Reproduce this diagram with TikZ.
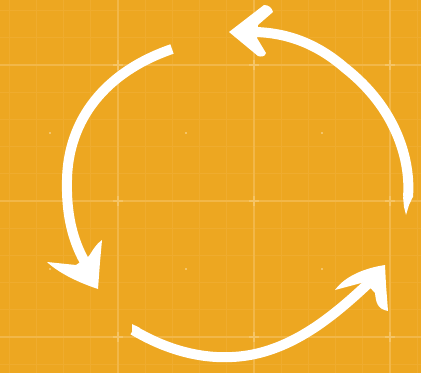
\documentclass[tikz,border=0pt]{standalone}
\begin{document}
\begin{tikzpicture}[x=1pt,y=-1pt,
  shaft/.style={white,line width=10pt,line cap=butt},
  headfill/.style={fill=white},
  minorgrid/.style={draw=gridminor,line width=0.9pt},
  majorgrid/.style={draw=gridmajor,line width=1.1pt}]
\definecolor{bgorange}{RGB}{237,167,33}
\definecolor{gridminor}{RGB}{239,172,46}
\definecolor{gridmajor}{RGB}{242,183,72}
\definecolor{gridmark}{RGB}{245,196,102}
\useasboundingbox (0,0) rectangle (421,373);
\fill[bgorange] (0,0) rectangle (421,373);
% minor grid
\foreach \i in {0,...,15} {\path[minorgrid] ({9.2+27.2*\i},0) -- ({9.2+27.2*\i},373);}
\foreach \j in {0,...,13} {\path[minorgrid] (0,{10.6+27.2*\j}) -- (421,{10.6+27.2*\j});}
% major grid
\foreach \x in {118,254,390} {\path[majorgrid] (\x,0) -- (\x,373);}
\foreach \y in {65,201,337} {\path[majorgrid] (0,\y) -- (421,\y);}
% crosses at major intersections
\foreach \x in {118,254,390} {\foreach \y in {65,201,337} {
  \draw[gridmark,line width=1.3pt] (\x-5,\y) -- (\x+5,\y) (\x,\y-5) -- (\x,\y+5);}}
% dots at cell centres
\foreach \x in {50,186,322} {\foreach \y in {133,269} {\fill[gridmark] (\x-1,\y-1) rectangle (\x+1,\y+1);}}
% arrow 1 (left, pointing down)
\draw[shaft] (172,49) .. controls (105,72) and (68,120) .. (67,180)
  .. controls (66,220) and (75,245) .. (86,264);
\path[headfill] (98,289) .. controls (80,283) and (60,274) .. (47,262)
  -- (76,265) -- (89,256) .. controls (93,250) and (96,244) .. (102,240)
  -- (100,262) -- cycle;
% arrow 2 (bottom, pointing up-right)
\draw[shaft] (133,330) .. controls (170,352) and (210,362) .. (250,355)
  .. controls (300,346) and (340,310) .. (371,281);
\fill[white] (132,324) -- (140,328) -- (136,336) -- (132,331) -- cycle;
\path[headfill] (385,265) .. controls (365,268) and (345,276) .. (335,290)
  -- (365,282) -- (375,293) .. controls (376,302) and (377,309) .. (388,311)
  -- (386,285) -- cycle;
% arrow 3 (right/top, pointing left)
\draw[shaft] (408,197) .. controls (411,160) and (396,108) .. (345,68)
  .. controls (315,42) and (285,33) .. (256,32);
\fill[white] (403,196.5) -- (413,196.5) -- (409,205) -- (406,215) -- (404,207) -- cycle;
\path[headfill] (229,32) -- (264,5) .. controls (269,5) and (272,8) .. (273,12)
  -- (258,25) -- (257,38) -- (266,53) .. controls (265,57) and (261,57) .. (258,56)
  -- cycle;
\end{tikzpicture}
\end{document}
